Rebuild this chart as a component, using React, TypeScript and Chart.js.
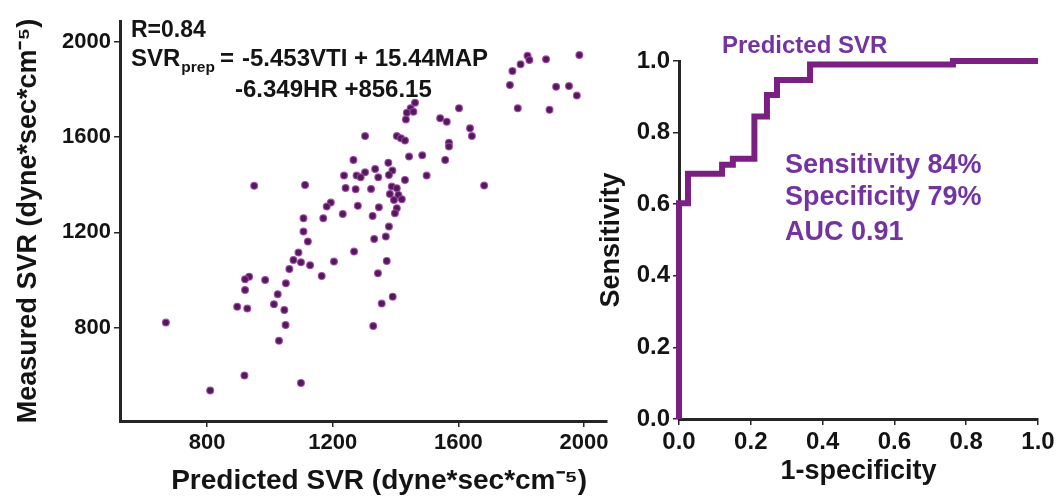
import React, { useEffect, useRef } from 'react';
import { Chart, registerables } from 'chart.js';

Chart.register(...registerables);

// ---------- Scatter (left panel) ----------
const predictedSVR = [
  1107, 1121, 1091, 1075, 1099, 1128, 1062, 934, 921, 985, 1051, 921, 1025, 896, 928, 1013, 1046, 669, 1050, 1029,
  919, 810, 1099, 1433, 1303, 1404, 1417, 1430, 1266, 1377, 1443, 1485, 1335, 1303, 1390, 1236, 1276, 1289, 1345, 1379,
  1499, 1112, 1430, 1241, 1273, 1322, 1388, 1404, 1382, 1409, 1420, 1395, 1194, 1181, 1280, 1347, 1404, 1398, 1232, 1107,
  1170, 1327, 1379, 1369, 1332, 1268, 1204, 1372, 1165, 1344, 1391, 1356, 1329, 950, 1462, 1448, 1436, 1457, 1542, 1563,
  1637, 1643, 1570, 1570, 1558, 1682, 1602, 1985, 1820, 1826, 1879, 1798, 1772, 1764, 1911, 1952, 1977, 1789, 1890,
];
const measuredSVR = [
  1203, 1161, 1115, 1084, 1074, 1062, 1046, 1014, 1003, 1000, 986, 958, 940, 888, 880, 898, 874, 821, 811, 745,
  599, 536, 568, 1674, 1604, 1604, 1595, 1585, 1504, 1492, 1518, 1523, 1466, 1452, 1459, 1438, 1438, 1431, 1431, 1441,
  1438, 1399, 1420, 1386, 1381, 1382, 1392, 1385, 1361, 1357, 1339, 1336, 1325, 1308, 1311, 1305, 1301, 1280, 1277, 1259,
  1259, 1269, 1224, 1182, 1172, 1119, 1077, 1080, 1017, 1028, 930, 901, 807, 1395, 1744, 1721, 1702, 1706, 1679, 1664,
  1637, 1604, 1576, 1560, 1504, 1396, 1721, 1944, 1941, 1923, 1926, 1905, 1877, 1818, 1811, 1814, 1774, 1721, 1714,
];
const scatterXTicks = [800, 1200, 1600, 2000];
const scatterYTicks = [800, 1200, 1600, 2000];

// ---------- ROC (right panel) ----------
const rocFPR = [0, 0, 0.025, 0.12, 0.15, 0.21, 0.245, 0.273, 0.365, 0.763, 1.0];
const rocTPR = [0, 0.603, 0.685, 0.71, 0.727, 0.845, 0.905, 0.947, 0.99, 1.0, 1.0];
const rocTicks = [0, 0.2, 0.4, 0.6, 0.8, 1.0];

const FONT = "'Liberation Sans', Arial, Helvetica, sans-serif";
const AXIS = '#252525';
const TEXT = '#141414';
const PURPLE_TEXT = '#7434a0';
const ROC_COLOR = '#7b2082';

const scatterNotes = {
  id: 'scatterNotes',
  afterDraw(chart: any) {
    const { ctx, chartArea } = chart;
    const x0 = chartArea.left;
    const y0 = chartArea.top;
    ctx.save();
    ctx.fillStyle = TEXT;
    ctx.textBaseline = 'alphabetic';
    ctx.textAlign = 'left';
    ctx.font = `bold 23px ${FONT}`;
    ctx.fillText('R=0.84', x0 + 11, y0 + 16);
    ctx.font = `bold 24px ${FONT}`;
    ctx.fillText('SVR', x0 + 11, y0 + 45);
    const w = ctx.measureText('SVR').width;
    ctx.font = `bold 15.5px ${FONT}`;
    ctx.fillText('prep', x0 + 12 + w, y0 + 51);
    ctx.font = `bold 24px ${FONT}`;
    ctx.fillText('=', x0 + 100, y0 + 45);
    ctx.fillText('-5.453VTI + 15.44MAP', x0 + 122, y0 + 45);
    ctx.fillText('-6.349HR +856.15', x0 + 115, y0 + 76);
    ctx.restore();
  },
};

const rocNotes = {
  id: 'rocNotes',
  afterDraw(chart: any) {
    const { ctx, chartArea } = chart;
    const x0 = chartArea.left;
    const y0 = chartArea.top;
    ctx.save();
    ctx.fillStyle = PURPLE_TEXT;
    ctx.textBaseline = 'alphabetic';
    ctx.textAlign = 'left';
    ctx.font = `bold 24px ${FONT}`;
    ctx.fillText('Predicted SVR', x0 + 43, y0 - 8);
    ctx.font = `bold 27px ${FONT}`;
    ctx.fillText('Sensitivity 84%', x0 + 106, y0 + 112);
    ctx.fillText('Specificity 79%', x0 + 106, y0 + 144);
    ctx.fillText('AUC 0.91', x0 + 106, y0 + 179);
    ctx.restore();
  },
};

function axisCommon(tickSize: number) {
  return {
    type: 'linear' as const,
    grid: {
      display: true,
      drawOnChartArea: false,
      drawTicks: true,
      tickLength: 6,
      color: AXIS,
      lineWidth: 1.5,
    },
    border: { display: true, color: AXIS, width: 3 },
    ticks: {
      color: TEXT,
      font: { family: FONT, size: tickSize, weight: 'bold' as const },
      padding: 3,
      maxRotation: 0,
      autoSkip: false,
    },
  };
}

export default function App() {
  const leftRef = useRef<HTMLCanvasElement | null>(null);
  const rightRef = useRef<HTMLCanvasElement | null>(null);

  useEffect(() => {
    Chart.defaults.font.family = FONT;
    const left = new Chart(leftRef.current as HTMLCanvasElement, {
      type: 'scatter',
      data: {
        datasets: [
          {
            data: predictedSVR.map((x, i) => ({ x, y: measuredSVR[i] })),
            backgroundColor: '#4f1c55',
            borderColor: 'rgba(165,60,175,0.85)',
            borderWidth: 1.2,
            pointRadius: 3.4,
          },
        ],
      },
      options: {
        animation: false,
        responsive: false,
        devicePixelRatio: 1,
        layout: { padding: { top: 21, right: 13, left: 0, bottom: 0 } },
        plugins: { legend: { display: false }, tooltip: { enabled: false } },
        scales: {
          x: {
            ...axisCommon(22),
            min: 523,
            max: 2073,
            afterBuildTicks: (s: any) => {
              s.ticks = scatterXTicks.map((v) => ({ value: v }));
            },
            afterFit: (s: any) => {
              s.height = 81;
            },
            ticks: { ...axisCommon(22).ticks, callback: (v: any) => String(v) },
            title: {
              display: true,
              text: '    Predicted SVR (dyne*sec*cm⁻⁵)',
              color: TEXT,
              font: { family: FONT, size: 28, weight: 'bold' },
              padding: { top: 0, bottom: 4 },
            },
          },
          y: {
            ...axisCommon(22),
            min: 408,
            max: 2087,
            afterBuildTicks: (s: any) => {
              s.ticks = scatterYTicks.map((v) => ({ value: v }));
            },
            afterFit: (s: any) => {
              s.width = 120;
            },
            ticks: { ...axisCommon(22).ticks, callback: (v: any) => String(v) },
            title: {
              display: true,
              text: 'Measured SVR (dyne*sec*cm⁻⁵)',
              color: TEXT,
              font: { family: FONT, size: 27, weight: 'bold' },
              padding: { top: 12, bottom: 0 },
            },
          },
        },
      },
      plugins: [scatterNotes],
    });

    const right = new Chart(rightRef.current as HTMLCanvasElement, {
      type: 'line',
      data: {
        datasets: [
          {
            data: rocFPR.map((x, i) => ({ x, y: rocTPR[i] })),
            borderColor: ROC_COLOR,
            borderWidth: 6,
            pointRadius: 0,
            stepped: 'before',
            fill: false,
            clip: false as any,
            borderJoinStyle: 'miter',
            borderCapStyle: 'butt',
          },
        ],
      },
      options: {
        animation: false,
        responsive: false,
        devicePixelRatio: 1,
        layout: { padding: { top: 61, right: 23, left: 0, bottom: 0 } },
        plugins: { legend: { display: false }, tooltip: { enabled: false } },
        scales: {
          x: {
            ...axisCommon(24),
            min: 0,
            max: 1,
            afterBuildTicks: (s: any) => {
              s.ticks = rocTicks.map((v) => ({ value: v }));
            },
            afterFit: (s: any) => {
              s.height = 83;
            },
            ticks: { ...axisCommon(24).ticks, callback: (v: any) => Number(v).toFixed(1) },
            title: {
              display: true,
              text: '1-specificity',
              color: TEXT,
              font: { family: FONT, size: 27, weight: 'bold' },
              padding: { top: 0, bottom: 14 },
            },
          },
          y: {
            ...axisCommon(24),
            min: 0,
            max: 1,
            afterBuildTicks: (s: any) => {
              s.ticks = rocTicks.map((v) => ({ value: v }));
            },
            afterFit: (s: any) => {
              s.width = 84;
            },
            ticks: { ...axisCommon(24).ticks, callback: (v: any) => Number(v).toFixed(1) },
            title: {
              display: true,
              text: 'Sensitivity',
              color: TEXT,
              font: { family: FONT, size: 27, weight: 'bold' },
              padding: { top: 0, bottom: 0 },
            },
          },
        },
      },
      plugins: [rocNotes],
    });

    return () => {
      left.destroy();
      right.destroy();
    };
  }, []);

  return (
    <div style={{ position: 'fixed', left: 0, top: 0, width: 1061, height: 502, background: '#ffffff', overflow: 'hidden' }}>
      <canvas ref={leftRef} width={620} height={502} style={{ position: 'absolute', left: 0, top: 0 }} />
      <canvas ref={rightRef} width={466} height={502} style={{ position: 'absolute', left: 595, top: 0 }} />
    </div>
  );
}
